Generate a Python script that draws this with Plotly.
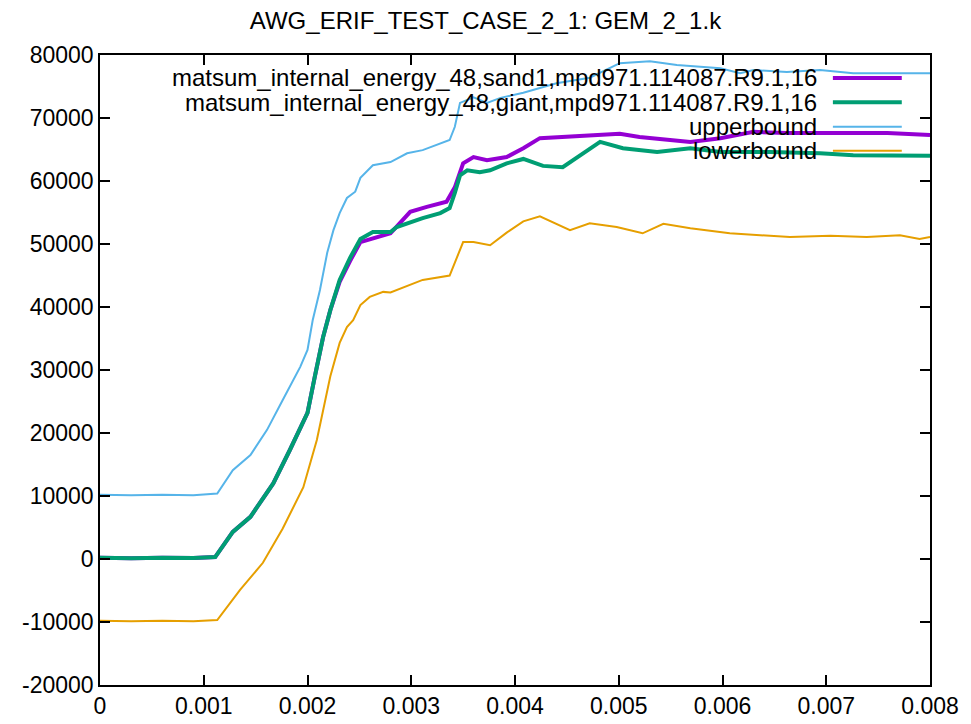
import plotly.graph_objects as go

title = "AWG_ERIF_TEST_CASE_2_1: GEM_2_1.k"
names = ["matsum_internal_energy_48,sand1,mpd971.114087.R9.1,16",
         "matsum_internal_energy_48,giant,mpd971.114087.R9.1,16",
         "upperbound", "lowerbound"]

t_sand = [0, 0.0003, 0.0006, 0.0009, 0.00111, 0.00128, 0.00145, 0.00167, 0.00183, 0.0020, 0.00207,
          0.00215, 0.00222, 0.00231, 0.00241, 0.00251, 0.0028, 0.00289, 0.00299, 0.00315, 0.00334,
          0.00342, 0.0035, 0.0036, 0.00373, 0.00392, 0.00408, 0.00424, 0.00472, 0.00501, 0.0052,
          0.00537, 0.00569, 0.00598, 0.0063, 0.00662, 0.00694, 0.00726, 0.00759, 0.008]
sand = [200, 100, 200, 150, 300, 4300, 6700, 12000, 17300, 23200, 28900,
        35200, 39500, 44000, 47300, 50300, 51700, 53300, 55100, 55900, 56700,
        59000, 62800, 63800, 63300, 63800, 65200, 66800, 67300, 67500, 67000,
        66700, 66200, 66800, 67800, 67600, 67600, 67500, 67600, 67300]

t_giant = [0, 0.0003, 0.0006, 0.0009, 0.00111, 0.00128, 0.00145, 0.00167, 0.00183, 0.0020, 0.00207,
           0.00215, 0.00222, 0.00231, 0.00241, 0.00251, 0.00263, 0.0028, 0.00286, 0.00296, 0.00311,
           0.00328, 0.00337, 0.00342, 0.00347, 0.00354, 0.00366, 0.00376, 0.00392, 0.00408, 0.00427,
           0.00446, 0.0046, 0.00482, 0.00504, 0.00537, 0.00569, 0.00598, 0.00646, 0.00694, 0.00726,
           0.00759, 0.008]
giant = [200, 100, 200, 150, 300, 4300, 6700, 12000, 17300, 23200, 28900,
         35200, 39500, 44300, 47800, 50800, 51900, 51900, 52700, 53300, 54100,
         54900, 55700, 58100, 60900, 61700, 61400, 61700, 62800, 63500, 62400,
         62200, 63800, 66200, 65200, 64600, 65200, 64600, 64600, 64400, 64100,
         64000, 64000]

t_upper = [0, 0.0003, 0.0006, 0.0009, 0.00113, 0.00128, 0.00145, 0.00161, 0.00176, 0.00193, 0.002,
           0.00205, 0.00212, 0.00219, 0.00225, 0.00231, 0.00238, 0.00246, 0.00251, 0.00263, 0.0028,
           0.00296, 0.00311, 0.00328, 0.00337, 0.00342, 0.00347, 0.0036, 0.00373, 0.00386, 0.00408,
           0.0044, 0.00472, 0.00501, 0.0053, 0.00556, 0.00598, 0.00617, 0.0063, 0.00662, 0.00694,
           0.00726, 0.00759, 0.008]
upper = [10200, 10100, 10200, 10100, 10400, 14100, 16500, 20500, 25200, 30500, 33200,
         37900, 42700, 48600, 52200, 54900, 57300, 58300, 60500, 62500, 63000,
         64400, 64900, 66000, 66500, 68600, 72400, 73300, 72400, 73200, 74000,
         75500, 76400, 78700, 79000, 78400, 77900, 77100, 77600, 77300, 77600,
         77100, 77100, 77100]

t_lower = [0, 0.0003, 0.0006, 0.0009, 0.00113, 0.00135, 0.00157, 0.00176, 0.00196, 0.00209, 0.00222,
           0.00231, 0.00238, 0.00244, 0.00251, 0.0026, 0.00273, 0.0028, 0.00311, 0.00337, 0.0035,
           0.0036, 0.00376, 0.00392, 0.00408, 0.00424, 0.00453, 0.00472, 0.00498, 0.00523, 0.00543,
           0.00569, 0.00607, 0.00665, 0.00704, 0.00739, 0.00771, 0.0079, 0.008]
lower = [-9800, -9900, -9800, -9900, -9700, -4900, -600, 4800, 11400, 18900, 29000,
         34300, 36800, 37900, 40300, 41600, 42400, 42300, 44300, 45000, 50300,
         50300, 49800, 51800, 53600, 54400, 52200, 53300, 52700, 51700, 53200,
         52500, 51700, 51100, 51300, 51100, 51400, 50800, 51100]

x_ticks = [0, 0.001, 0.002, 0.003, 0.004, 0.005, 0.006, 0.007, 0.008]
x_labels = ["0", "0.001", "0.002", "0.003", "0.004", "0.005", "0.006", "0.007", "0.008"]
y_ticks = [-20000, -10000, 0, 10000, 20000, 30000, 40000, 50000, 60000, 70000, 80000]
y_labels = [str(v) for v in y_ticks]

colors = ["#9400d3", "#009e73", "#56b4e9", "#e69f00"]
widths = [4, 4, 2, 2]
series = [(t_sand, sand), (t_giant, giant), (t_upper, upper), (t_lower, lower)]

FONT = "Liberation Sans, Arial, sans-serif"
fig = go.Figure()
for (tx, ty), nm, c, w in zip(series, names, colors, widths):
    fig.add_trace(go.Scatter(x=tx, y=ty, mode="lines", name=nm,
                             line=dict(color=c, width=w), showlegend=False))

# gnuplot-style legend: right-aligned text, sample line to its right
rows_y = [0.9635, 0.925, 0.886, 0.848]
for i, (nm, c, w) in enumerate(zip(names, colors, widths)):
    fig.add_annotation(xref="paper", yref="paper", x=0.866, y=rows_y[i], text=nm,
                       showarrow=False, xanchor="right", yanchor="middle",
                       font=dict(family=FONT, size=24, color="black"))
    fig.add_shape(type="line", xref="paper", yref="paper", x0=0.883, x1=0.966,
                  y0=rows_y[i], y1=rows_y[i], line=dict(color=c, width=w))

axis_common = dict(showgrid=False, zeroline=False, showline=True, linecolor="black",
                   linewidth=1.5, mirror="ticks", ticks="inside", ticklen=10,
                   tickcolor="black", tickwidth=1.5, automargin=False,
                   tickfont=dict(family=FONT, size=23, color="black"))
fig.update_xaxes(range=[0, 0.008], tickvals=x_ticks, ticktext=x_labels, **axis_common)
fig.update_yaxes(range=[-20000, 80000], tickvals=y_ticks, ticktext=y_labels, **axis_common)

fig.update_layout(
    width=971, height=724,
    margin=dict(l=100, r=41, t=55, b=39),
    paper_bgcolor="white", plot_bgcolor="white",
    title=dict(text=title, x=0.5, xanchor="center", y=0.972, yanchor="middle",
               font=dict(family=FONT, size=24, color="black")),
)
fig.write_html("out.html", config={"displayModeBar": False},
               post_script="document.body.style.margin='0px';document.body.style.overflow='hidden';")
